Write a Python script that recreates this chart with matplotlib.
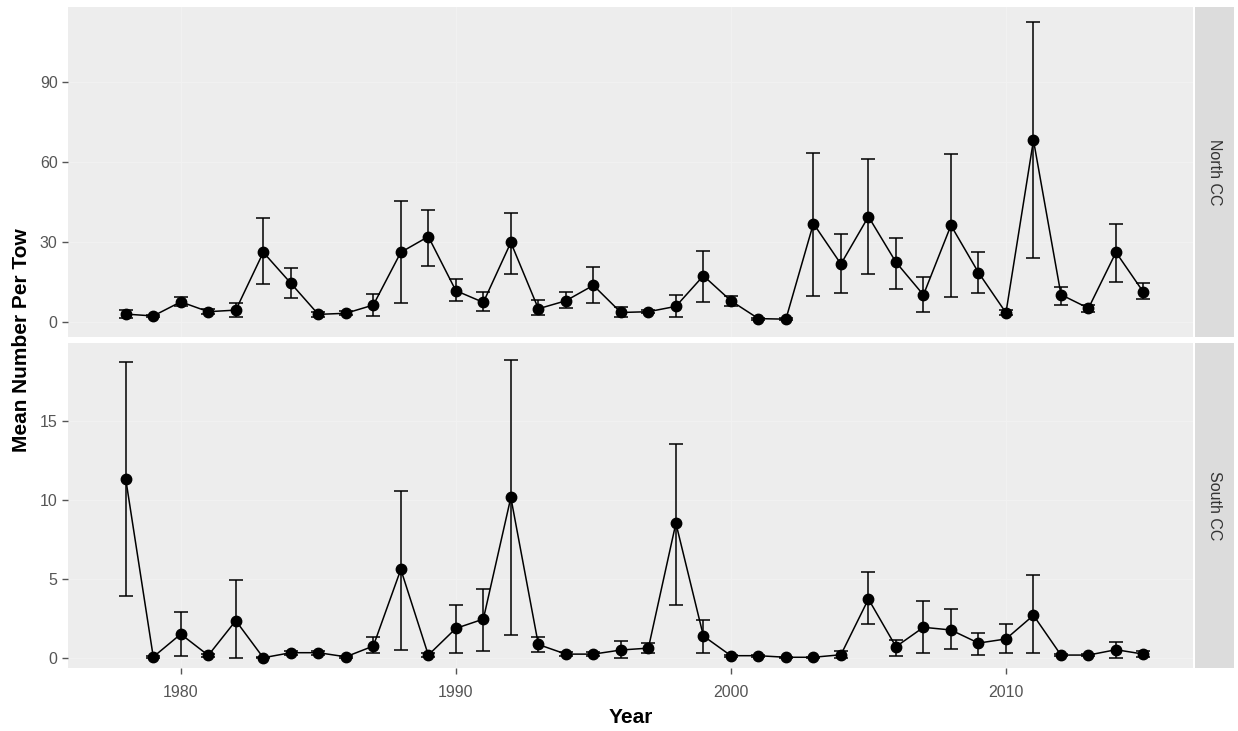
import numpy as np
import matplotlib
matplotlib.use('Agg')
import matplotlib.pyplot as plt

plt.rcParams['font.family'] = ['Liberation Sans', 'DejaVu Sans']

years = list(range(1978, 2016))

# North CC: mean, lower and upper error bounds
north_mean = [3.0, 2.3, 7.6, 3.9, 4.5, 26.2, 14.6, 2.9, 3.3, 6.4,
              26.2, 32.1, 11.8, 7.4, 29.9, 5.0, 8.0, 13.8, 3.6, 3.9,
              5.9, 17.4, 8.0, 1.3, 1.1, 37.0, 21.8, 39.6, 22.5, 10.2,
              36.3, 18.6, 3.5, 68.3, 10.3, 5.2, 26.2, 11.2]
north_lo = [1.5, 1.8, 6.0, 3.0, 1.8, 14.2, 9.2, 2.0, 2.7, 2.4,
            7.3, 21.2, 7.9, 4.1, 18.1, 2.5, 5.3, 7.0, 2.0, 3.3,
            1.9, 7.4, 6.0, 0.9, 0.7, 9.8, 10.8, 18.1, 12.5, 3.6,
            9.3, 10.8, 2.5, 24.2, 6.3, 3.9, 15.1, 8.7]
north_hi = [4.5, 2.8, 9.5, 4.8, 7.3, 39.0, 20.2, 3.8, 4.0, 10.5,
            45.3, 41.9, 16.3, 11.3, 40.9, 8.4, 11.3, 20.7, 5.8, 4.5,
            10.0, 26.8, 9.8, 1.7, 1.5, 63.5, 32.9, 61.3, 31.7, 16.8,
            63.1, 26.2, 4.5, 112.7, 13.3, 6.4, 36.8, 14.6]

# South CC
south_mean = [11.32, 0.05, 1.5, 0.15, 2.35, 0.0, 0.32, 0.32, 0.06, 0.74,
              5.6, 0.17, 1.86, 2.45, 10.16, 0.84, 0.23, 0.23, 0.49, 0.61,
              8.53, 1.38, 0.13, 0.13, 0.03, 0.03, 0.19, 3.72, 0.70, 1.93,
              1.76, 0.93, 1.19, 2.69, 0.17, 0.17, 0.51, 0.23]
south_lo = [3.9, 0.0, 0.1, 0.05, 0.0, 0.0, 0.2, 0.2, 0.0, 0.27,
            0.51, 0.05, 0.27, 0.44, 1.46, 0.38, 0.12, 0.12, 0.0, 0.27,
            3.34, 0.27, 0.05, 0.05, 0.0, 0.0, 0.0, 2.14, 0.1, 0.27,
            0.53, 0.19, 0.27, 0.27, 0.08, 0.08, 0.0, 0.06]
south_hi = [18.75, 0.1, 2.9, 0.25, 4.95, 0.05, 0.45, 0.45, 0.12, 1.29,
            10.56, 0.3, 3.34, 4.38, 18.86, 1.29, 0.35, 0.35, 1.04, 0.91,
            13.57, 2.39, 0.2, 0.2, 0.06, 0.06, 0.44, 5.44, 1.12, 3.62,
            3.07, 1.57, 2.14, 5.23, 0.25, 0.25, 0.97, 0.44]

panels = [
    ('North CC', north_mean, north_lo, north_hi, (-5.6, 118.3), [0, 30, 60, 90]),
    ('South CC', south_mean, south_lo, south_hi, (-0.65, 19.95), [0, 5, 10, 15]),
]

W, H = 1238, 731
fig = plt.figure(figsize=(W / 100, H / 100), dpi=100)
fig.patch.set_facecolor('white')

left, right = 68, 1193
strip_l, strip_r = 1195, 1234
rows = [(7, 337), (343, 668)]

axes = []
for (name, mean, lo, hi, ylim, yticks), (top, bot) in zip(panels, rows):
    ax = fig.add_axes([left / W, 1 - bot / H, (right - left) / W, (bot - top) / H])
    ax.set_facecolor('#EDEDED')
    mean = np.array(mean)
    yerr = [mean - np.array(lo), np.array(hi) - mean]
    ax.plot(years, mean, color='black', lw=1.1, zorder=3)
    ax.errorbar(years, mean, yerr=yerr, fmt='none', ecolor='black',
                elinewidth=1.1, capsize=4.7, capthick=1.1, zorder=3)
    ax.plot(years, mean, 'o', color='black', ms=7.5, zorder=4)
    ax.set_xlim(1975.9, 2016.8)
    ax.set_ylim(*ylim)
    ax.set_yticks(yticks)
    ax.set_xticks([1980, 1990, 2000, 2010])
    ax.grid(True, color='#F1F1F1', lw=1.0, zorder=0)
    ax.set_axisbelow(True)
    for s in ax.spines.values():
        s.set_visible(False)
    ax.tick_params(axis='both', colors='#555555', labelcolor='#555555',
                   labelsize=11.5, length=4, width=1)
    # facet strip on the right
    sax = fig.add_axes([strip_l / W, 1 - bot / H, (strip_r - strip_l) / W, (bot - top) / H])
    sax.set_facecolor('#DCDCDC')
    sax.set_xticks([])
    sax.set_yticks([])
    for s in sax.spines.values():
        s.set_visible(False)
    sax.text(0.5, 0.5, name, rotation=-90, ha='center', va='center',
             fontsize=11.5, color='#333333', transform=sax.transAxes)
    axes.append(ax)

axes[0].tick_params(axis='x', bottom=False, labelbottom=False)
axes[1].tick_params(axis='x', pad=8)
axes[1].set_xlabel('Year', fontsize=15, fontweight='bold', labelpad=6)
fig.text(22 / W, 1 - 340 / H, 'Mean Number Per Tow', rotation=90, ha='center',
         va='center', fontsize=15, fontweight='bold')

fig.savefig('out.png', dpi=100)
